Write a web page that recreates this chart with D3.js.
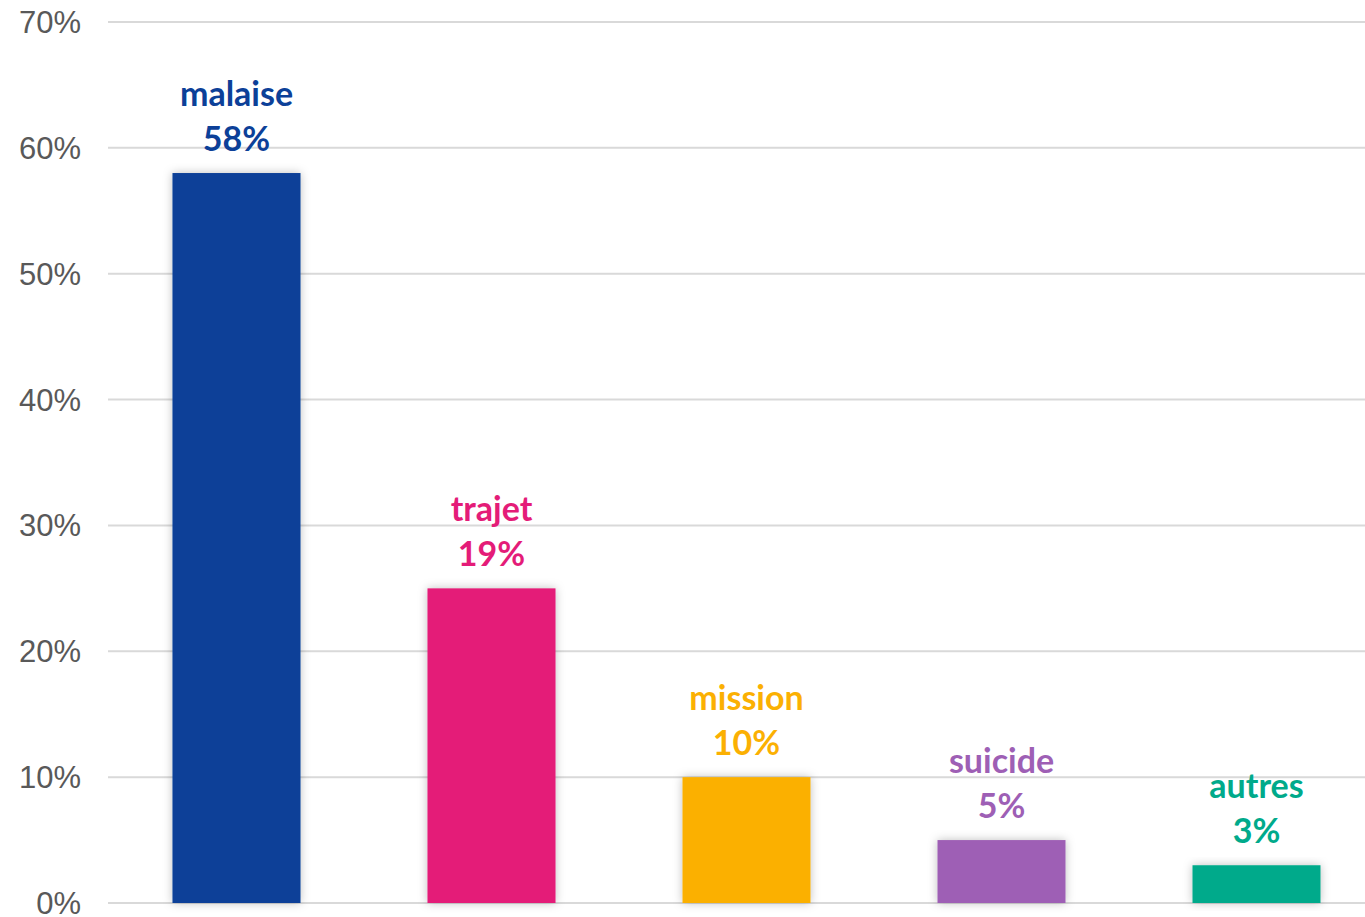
<!DOCTYPE html>
<html><head><meta charset="utf-8">
<script src="https://cdn.jsdelivr.net/npm/d3@7"></script>
<style>html,body{margin:0;padding:0;background:#fff;overflow:hidden}</style>
</head><body>
<svg id="chart" width="1365" height="917"></svg>
<script>
const categories = ["malaise", "trajet", "mission", "suicide", "autres"];
const values = [58, 25, 10, 5, 3];
const valueLabels = ["58%", "19%", "10%", "5%", "3%"];
const colors = ["#0c4098", "#e41c78", "#fbb002", "#9e5fb5", "#00aa8b"];
const yTicks = [0, 10, 20, 30, 40, 50, 60, 70];

const svg = d3.select("#chart");
const defs = svg.append("defs");
const f = defs.append("filter").attr("id","sh").attr("x","-20%").attr("y","-20%").attr("width","140%").attr("height","140%");
f.append("feDropShadow").attr("dx",0).attr("dy",0).attr("stdDeviation",5).attr("flood-color","#000").attr("flood-opacity",0.25);

const x = d3.scaleBand().domain(categories).range([109, 1384]).paddingInner(0.498).paddingOuter(0.249);
const y = d3.scaleLinear().domain([0, 70]).range([903, 22]);

const grid = svg.append("g");
grid.selectAll("line").data(yTicks).join("line")
  .attr("x1",108).attr("x2",1365)
  .attr("y1",d=>y(d)).attr("y2",d=>y(d))
  .attr("stroke","#d9d9d9").attr("stroke-width",2);

const yAxis = d3.axisLeft(y).tickValues(yTicks).tickFormat(d=>d+"%").tickSize(0).tickPadding(0);
const ag = svg.append("g").attr("transform","translate(81,0)").call(yAxis);
ag.select(".domain").remove();
ag.selectAll("text").attr("font-family","Liberation Sans, Arial, sans-serif").attr("font-size",31).attr("fill","#595959").attr("dy","0.34em");

const bars = svg.append("g");
bars.selectAll("rect").data(values).join("rect")
  .attr("x",(d,i)=>x(categories[i]))
  .attr("width",x.bandwidth())
  .attr("y",d=>y(d))
  .attr("height",d=>y(0)-y(d))
  .attr("fill",(d,i)=>colors[i])
  .attr("filter","url(#sh)");

const lab = svg.append("g").attr("font-family","Lato, 'Open Sans', sans-serif").attr("font-weight","bold").attr("font-size",34).attr("text-anchor","middle");
lab.selectAll("text.name").data(values).join("text").attr("class","name")
  .attr("x",(d,i)=>x(categories[i])+x.bandwidth()/2)
  .attr("y",d=>y(d)-67)
  .attr("fill",(d,i)=>colors[i])
  .text((d,i)=>categories[i]);
lab.selectAll("text.val").data(values).join("text").attr("class","val")
  .attr("x",(d,i)=>x(categories[i])+x.bandwidth()/2)
  .attr("y",d=>y(d)-22)
  .attr("fill",(d,i)=>colors[i])
  .text((d,i)=>valueLabels[i]);
</script>
</body></html>
